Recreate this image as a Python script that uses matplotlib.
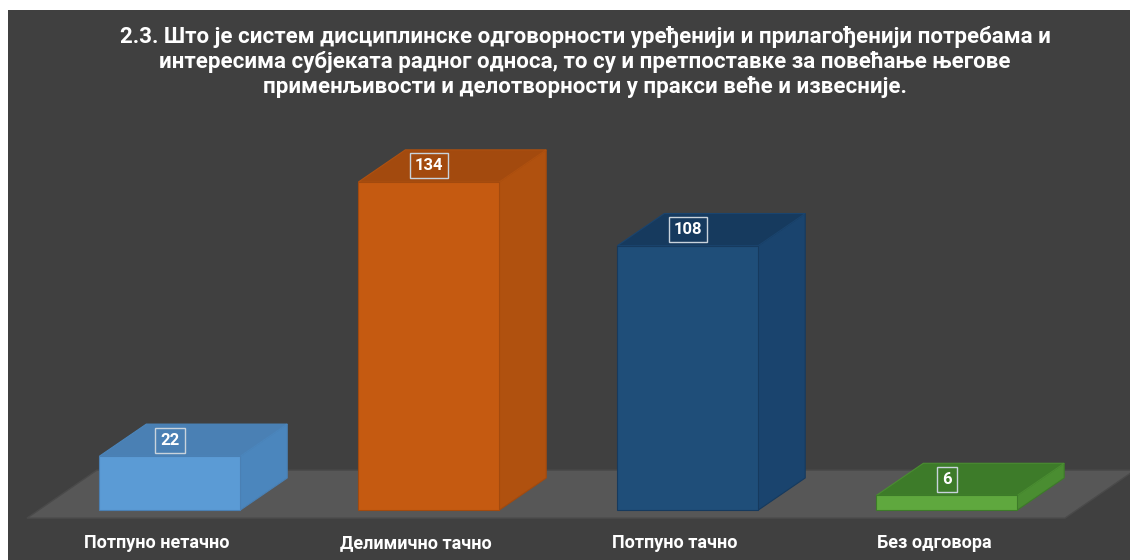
import matplotlib
matplotlib.use("Agg")
import matplotlib.pyplot as plt
from matplotlib.patches import Polygon, Rectangle

plt.rcParams['font.family'] = ['Roboto', 'DejaVu Sans']

# data
categories = ["Потпуно нетачно", "Делимично тачно", "Потпуно тачно", "Без одговора"]
values = [22, 134, 108, 6]
title_lines = ["2.3. Што је систем дисциплинске одговорности уређенији и прилагођенији потребама и",
               "интересима субјеката радног односа, то су и претпоставке за повећање његове",
               "применљивости и делотворности у пракси веће и извесније."]

# colours: front, top, side
front_cols = ["#5b9bd5", "#c55a11", "#1f4e79", "#5fa83e"]
top_cols = ["#4a80b4", "#a34a0e", "#163a5e", "#3d7b29"]
side_cols = ["#4b86bd", "#b0510f", "#1a446e", "#4a8d31"]

W, H = 1130, 560
fig = plt.figure(figsize=(W / 100, H / 100), dpi=100)
fig.patch.set_facecolor("white")
fig.add_artist(Rectangle((8 / W, 0), 1, 550 / H, transform=fig.transFigure,
                         facecolor="#404040", edgecolor="none", zorder=0))

ax = fig.add_axes([0, 0, 1, 1])
ax.set_axis_off()
# x in category units, y in value units
ax.set_xlim(-0.656, 3.707)
ax.set_ylim(-20.4, 208.3)

half = 0.272          # half width of bar front
ddx, ddy = 0.181, 13.1  # 3d depth offset

# floor
fx0, fx1, fy = -0.552, 3.456, -3.3
fdx, fdy = 0.27, 19.6
ax.add_patch(Polygon([(fx0, fy), (fx1, fy), (fx1 + fdx, fy + fdy), (fx0 + fdx, fy + fdy)],
                     closed=True, facecolor="#575757", edgecolor="#4a4a4a", lw=1, zorder=1))

for i, v in enumerate(values):
    x0, x1 = i - half, i + half
    side = [(x1, 0), (x1 + ddx, ddy), (x1 + ddx, v + ddy), (x1, v)]
    top = [(x0, v), (x1, v), (x1 + ddx, v + ddy), (x0 + ddx, v + ddy)]
    ax.add_patch(Polygon(side, closed=True, facecolor=side_cols[i], edgecolor=top_cols[i], lw=0.8, zorder=2))
    ax.add_patch(Polygon(top, closed=True, facecolor=top_cols[i], edgecolor=side_cols[i], lw=0.8, zorder=2))
    ax.add_patch(Rectangle((x0, 0), 2 * half, v, facecolor=front_cols[i], edgecolor=top_cols[i], lw=0.8, zorder=3))
    ax.text(i, v + ddy / 2, str(v), ha="center", va="center", color="white",
            fontsize=12, fontweight="bold", zorder=5,
            bbox=dict(boxstyle="square,pad=0.3", facecolor=top_cols[i], edgecolor="#c9d3dc", lw=1))
    ax.text(i - 0.05, -13.5, categories[i], ha="center", va="center", color="white",
            fontsize=13, fontweight="bold", zorder=5)

for k, line in enumerate(title_lines):
    fig.text(585 / W, 1 - (37 + 25 * k) / H, line, ha="center", va="center",
             color="white", fontsize=16, fontweight="bold")

fig.savefig("out.png", dpi=100)
